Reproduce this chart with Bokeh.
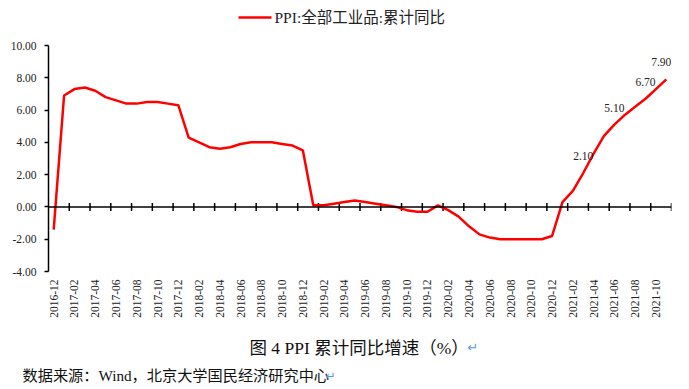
import math
from bokeh.plotting import figure
from bokeh.layouts import column
from bokeh.models import (Range1d, FixedTicker, CustomJSTickFormatter, NumeralTickFormatter, Span)
from bokeh.embed import file_html
from bokeh.resources import INLINE
from bokeh.core.properties import value

months = [
    "2016-12",
    "2017-01", "2017-02", "2017-03", "2017-04", "2017-05", "2017-06",
    "2017-07", "2017-08", "2017-09", "2017-10", "2017-11", "2017-12",
    "2018-01", "2018-02", "2018-03", "2018-04", "2018-05", "2018-06",
    "2018-07", "2018-08", "2018-09", "2018-10", "2018-11", "2018-12",
    "2019-01", "2019-02", "2019-03", "2019-04", "2019-05", "2019-06",
    "2019-07", "2019-08", "2019-09", "2019-10", "2019-11", "2019-12",
    "2020-01", "2020-02", "2020-03", "2020-04", "2020-05", "2020-06",
    "2020-07", "2020-08", "2020-09", "2020-10", "2020-11", "2020-12",
    "2021-01", "2021-02", "2021-03", "2021-04", "2021-05", "2021-06",
    "2021-07", "2021-08", "2021-09", "2021-10", "2021-11",
]
ppi = [
    -1.4,
    6.9, 7.3, 7.4, 7.2, 6.8, 6.6,
    6.4, 6.4, 6.5, 6.5, 6.4, 6.3,
    4.3, 4.0, 3.7, 3.6, 3.7, 3.9,
    4.0, 4.0, 4.0, 3.9, 3.8, 3.5,
    0.1, 0.1, 0.2, 0.3, 0.4, 0.3,
    0.2, 0.1, 0.0, -0.2, -0.3, -0.3,
    0.1, -0.2, -0.6, -1.2, -1.7, -1.9,
    -2.0, -2.0, -2.0, -2.0, -2.0, -1.8,
    0.3, 1.0, 2.1, 3.3, 4.4, 5.1,
    5.7, 6.2, 6.7, 7.3, 7.9,
]
label_months = ["2021-03", "2021-06", "2021-09", "2021-11"]
label_values = [2.10, 5.10, 6.70, 7.90]
y_ticks = [-4, -2, 0, 2, 4, 6, 8, 10]
series_name = "PPI:全部工业品:累计同比"
caption = "图 4 PPI 累计同比增速（%）"
source_note = "数据来源：Wind，北京大学国民经济研究中心"
return_mark = "↵"

SERIF_CJK = "'Liberation Serif', 'Noto Sans CJK SC'"
RED = "#FF0000"
W = 689


def blank(height):
    f = figure(width=W, height=height, output_backend="svg", toolbar_location=None,
               x_range=Range1d(0, W), y_range=Range1d(height, 0),
               x_axis_location=None, y_axis_location=None, frame_align=False,
               min_border=0, min_border_left=0, min_border_right=0,
               min_border_top=0, min_border_bottom=0)
    f.outline_line_color = None
    f.grid.visible = False
    return f


x = list(range(len(months)))

# ---------------- header (legend) ----------------
head = blank(37)
head.line([238, 271], [17, 17], line_color=RED, line_width=2.5)
head.text(x=[274], y=[17], text=[series_name], text_baseline="middle",
          text_font=value(SERIF_CJK), text_font_size="15.5px", text_color="#222222")

# ---------------- main chart ----------------
p = figure(width=W, height=288, output_backend="svg", toolbar_location=None,
           x_range=Range1d(-0.5, len(months) - 0.5), y_range=Range1d(-4, 10),
           min_border_left=48, min_border_right=18, min_border_top=8, min_border_bottom=54)
p.outline_line_color = None
p.grid.visible = False

p.add_layout(Span(location=0, dimension="width", line_color="black", line_width=1.5))
bx = [i - 0.5 for i in range(2, len(months) + 1, 2)]
p.scatter(bx, [0] * len(bx), marker="dash", angle=math.pi / 2, size=8,
          line_color="black", line_width=1.5)

line = p.line(x, ppi, line_color=RED, line_width=2.5)

lx = [months.index(m) for m in label_months]
p.text(x=lx, y=label_values, text=[f"{v:.2f}" for v in label_values],
       x_offset=[0, 0, 0, -5],
       text_align="center", text_baseline="middle", y_offset=-17,
       text_font=value("Liberation Serif"), text_font_size="11.5px", text_color="#222222")

ya = p.yaxis[0]
ya.ticker = FixedTicker(ticks=y_ticks)
ya.formatter = NumeralTickFormatter(format="0.00")
ya.major_label_text_font = "Liberation Serif"
ya.major_label_text_font_size = "11.5px"
ya.major_label_text_color = "#222222"
ya.axis_line_width = 1.5
ya.axis_line_color = "black"
ya.major_tick_line_color = "black"
ya.major_tick_line_width = 1.5
ya.major_tick_out = 4
ya.major_tick_in = 0
ya.minor_tick_line_color = None
ya.major_label_standoff = 8

xa = p.xaxis[0]
xa.ticker = FixedTicker(ticks=x[::2])
xa.formatter = CustomJSTickFormatter(
    args=dict(labels=months),
    code="const i = Math.round(tick); return (i >= 0 && i < labels.length) ? labels[i] : '';")
xa.major_label_orientation = math.pi / 2
xa.axis_line_color = None
xa.major_tick_line_color = None
xa.minor_tick_line_color = None
xa.major_tick_out = 0
xa.major_tick_in = 0
xa.major_label_standoff = 8
xa.major_label_text_font = "Liberation Serif"
xa.major_label_text_font_size = "11.5px"
xa.major_label_text_color = "#222222"

# ---------------- footer (caption and source) ----------------
foot = blank(64)
foot.text(x=[249], y=[22], text=[caption], text_baseline="middle",
          text_font=value(SERIF_CJK), text_font_size="17.5px", text_color="#111111")
foot.text(x=[467], y=[22], text=[return_mark], text_baseline="middle",
          text_font=value("DejaVu Sans"), text_font_size="13px", text_color="#5B9BD5")
foot.text(x=[22], y=[50], text=[source_note], text_baseline="middle",
          text_font=value(SERIF_CJK), text_font_size="15.2px", text_color="#111111")
foot.text(x=[325], y=[50], text=[return_mark], text_baseline="middle",
          text_font=value("DejaVu Sans"), text_font_size="12px", text_color="#5B9BD5")

layout = column(head, p, foot, spacing=0)
open("out.html", "w").write(file_html(layout, INLINE))
